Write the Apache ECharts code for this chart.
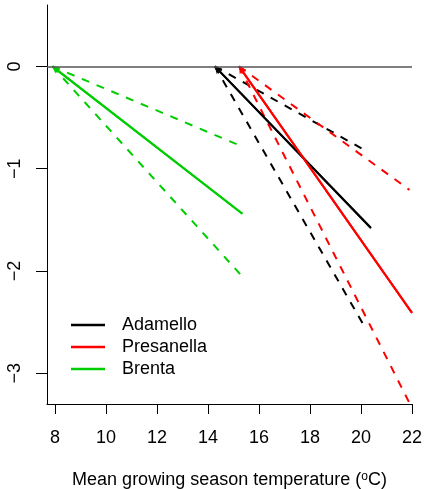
<!DOCTYPE html>
<html>
<head>
<meta charset="utf-8">
<script src="https://cdn.jsdelivr.net/npm/echarts@6/dist/echarts.min.js"></script>
<style>
html,body{margin:0;padding:0;background:#fff;}
#chart{width:424px;height:489px;}
</style>
</head>
<body>
<div id="chart"></div>
<script>
// Data
var xTicks = [8, 10, 12, 14, 16, 18, 20, 22];
var yTicks = [0, -1, -2, -3];
var names = ['Adamello', 'Presanella', 'Brenta'];
var colors = ['#000000', '#FF0000', '#00CD00'];
// start x (at y = 0), end of solid line, ends of dashed lines
var startX = [14.27, 15.22, 7.9];
var solidEnd = [[20.39, -1.58], [22.0, -2.41], [15.35, -1.44]];
var upperEnd = [[20.2, -0.826], [21.9, -1.207], [15.35, -0.784]];
var lowerEnd = [[20.2, -2.57], [21.92, -3.30], [15.35, -2.055]];

var FONT = 'Liberation Sans, Arial, Helvetica, sans-serif';
var FS = 18;
var series = [];
names.forEach(function (n, i) {
  series.push({
    name: n, type: 'line', symbol: 'none', silent: true,
    data: [[startX[i], 0], solidEnd[i]],
    lineStyle: { color: colors[i], width: 2 },
    itemStyle: { color: colors[i] },
    markLine: {
      silent: true, animation: false,
      label: { show: false },
      lineStyle: { color: colors[i], width: 2, type: 'solid' },
      symbol: ['arrow', 'none'], symbolSize: [6, 7],
      data: [[{ coord: [startX[i], 0] }, { coord: solidEnd[i] }]]
    },
    z: 3
  });
  [upperEnd[i], lowerEnd[i]].forEach(function (e) {
    series.push({
      name: n + '_d', type: 'line', symbol: 'none', silent: true,
      data: [[startX[i], 0], e],
      lineStyle: { color: colors[i], width: 2, type: [8, 8] },
      z: 2
    });
  });
});
series.push({
  name: 'zero', type: 'line', data: [], silent: true,
  markLine: {
    silent: true, animation: false, symbol: 'none',
    label: { show: false },
    lineStyle: { color: '#555', width: 1.5, type: 'solid' },
    data: [{ yAxis: 0 }]
  }
});

var chart = echarts.init(document.getElementById('chart'));
chart.setOption({
  animation: false,
  backgroundColor: '#fff',
  textStyle: { fontFamily: FONT },
  grid: { left: 47, right: 12, top: 5, bottom: 85, containLabel: false, outerBoundsMode: 'none' },
  xAxis: {
    type: 'value', min: 7.69, max: 22,
    splitLine: { show: false },
    axisLine: { show: true, onZero: false, lineStyle: { color: '#000', width: 1 } },
    axisTick: { show: true, length: 10, customValues: xTicks, lineStyle: { color: '#000' } },
    axisLabel: { customValues: xTicks, fontSize: FS, color: '#000', margin: 25, fontFamily: FONT },
    name: 'Mean growing season temperature ({sup|o}C)',
    nameLocation: 'middle', nameGap: 67,
    nameTextStyle: {
      fontSize: FS, color: '#000', fontFamily: FONT,
      rich: { sup: { fontSize: 12, verticalAlign: 'top', color: '#000', fontFamily: FONT, lineHeight: 12 } }
    }
  },
  yAxis: {
    type: 'value', min: -3.3, max: 0.6,
    splitLine: { show: false },
    axisLine: { show: true, onZero: false, lineStyle: { color: '#000', width: 1 } },
    axisTick: { show: true, length: 11, customValues: yTicks, lineStyle: { color: '#000' } },
    axisLabel: {
      customValues: yTicks, fontSize: FS, color: '#000', rotate: 90, margin: 23, fontFamily: FONT,
      formatter: function (v) { return String(v).replace('-', '\u2212'); }
    }
  },
  legend: {
    orient: 'vertical', left: 71, top: 316, padding: 0,
    data: names.map(function (n, i) { return { name: n, icon: 'rect', itemStyle: { color: colors[i] } }; }),
    itemWidth: 34, itemHeight: 2.5, itemGap: 4,
    textStyle: { fontSize: FS, lineHeight: 18, color: '#000', fontFamily: FONT, padding: [0, 0, 0, 12] },
    selectedMode: false
  },
  series: series
});
</script>
</body>
</html>
